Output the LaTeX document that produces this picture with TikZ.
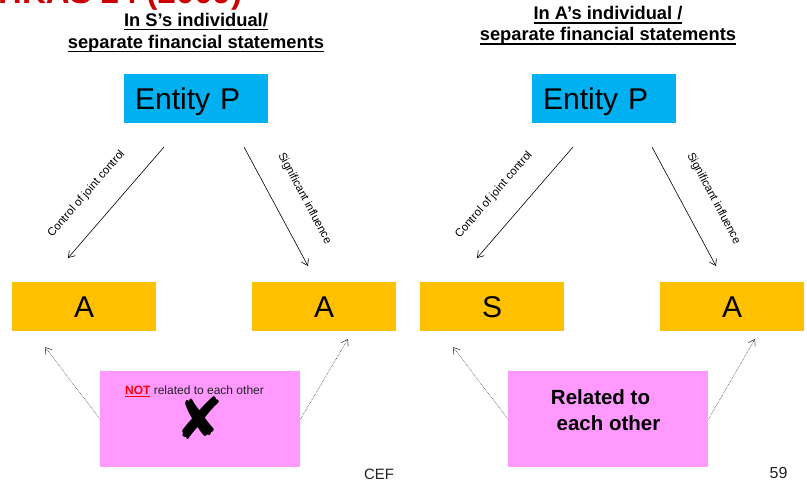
\documentclass[tikz,border=0pt]{standalone}
\usepackage{fontspec}
\setmainfont{Liberation Sans}
\newfontfamily\symfont{DejaVu Sans}
\usetikzlibrary{arrows.meta}

\definecolor{entityblue}{HTML}{00B0F0}
\definecolor{partyyellow}{HTML}{FFC000}
\definecolor{notepink}{HTML}{FF99FF}
\definecolor{titlered}{HTML}{CC0000}
\definecolor{inkgray}{HTML}{222222}

% underlined text: #1 text, #2 depth of the rule's lower edge, #3 rule thickness
\newsavebox\ulbox
\newcommand\underlined[3]{\sbox\ulbox{#1}\rlap{\rule[-#2]{\wd\ulbox}{#3}}\usebox\ulbox}

\tikzset{
  heading/.style={font=\fontsize{18.3}{21}\selectfont\bfseries, anchor=base, inner sep=0pt},
  entity/.style={fill=entityblue, anchor=north west, minimum height=49pt,
    inner xsep=11pt, inner ysep=0pt, text width=122pt, align=left,
    text height=21.5pt, text depth=0pt, font=\fontsize{30}{36}\selectfont},
  party/.style={fill=partyyellow, anchor=north west, minimum width=144pt,
    minimum height=49pt, inner sep=0pt, text height=21.5pt, text depth=0pt,
    font=\fontsize{30}{36}\selectfont},
  note/.style={fill=notepink, anchor=north west, minimum width=200pt,
    minimum height=96pt, inner sep=0pt},
  link/.style={line width=0.6pt, -{Straight Barb[length=6pt,width=8pt]}},
  hint/.style={densely dotted, line width=0.6pt, draw=black!75,
    -{Straight Barb[length=6pt,width=8pt]}},
  linklabel/.style={font=\fontsize{11.4}{13}\selectfont, inner sep=0pt},
}

\begin{document}
\begin{tikzpicture}[x=1pt,y=-1pt]
  \useasboundingbox (0,0) rectangle (807,488);
  \clip (0,0) rectangle (807,488);

  % slide title, mostly above the visible area
  \node[anchor=base west, inner sep=0pt, text=titlered,
        font=\fontsize{33}{40}\selectfont\bfseries] (title) at (-2,3) {HKAS 24 (2009)};

  % column headings
  \node[heading] (hl1) at (196,26) {\underlined{In S’s individual/}{4pt}{1.3pt}};
  \node[heading] (hl2) at (196,48) {\underlined{separate financial statements}{4pt}{1.3pt}};
  \node[heading] (hr1) at (608,19.5) {\underlined{In A’s individual /}{4pt}{1.3pt}};
  \node[heading] (hr2) at (608,40.5) {\underlined{separate financial statements}{4pt}{1.3pt}};

  % left column: S's statements
  \node[entity] (P1) at (124,74) {Entity P};
  \node[party] (A1) at (12,282) {A};
  \node[party] (A2) at (252,282) {A};

  \coordinate (l1s) at (164,147);
  \coordinate (l1e) at (68,258);
  \coordinate (l2s) at (244,147);
  \coordinate (l2e) at (308,266);
  \draw[link] (l1s) -- (l1e);
  \draw[link] (l2s) -- (l2e);
  \node[linklabel, rotate=49] (lab1) at (86.5,194) {Control of joint control};
  \node[linklabel, rotate=-62] (lab2) at (304.5,198.5) {Significant influence};

  \node[note] (N1) at (100,371) {};
  \node[inner sep=0pt, font=\fontsize{12}{14}\selectfont, text=inkgray] (not) at (194.5,391)
    {\textcolor{red}{\underlined{\textbf{NOT}}{2.4pt}{0.9pt}} related to each other};
  \node[inner sep=0pt, font=\symfont\fontsize{58}{60}\selectfont] (cross) at (200,418) {✘};

  \coordinate (h1e) at (45,347);
  \coordinate (h2e) at (348,339);
  \draw[hint] (N1.west) -- (h1e);
  \draw[hint] (N1.east) -- (h2e);

  % right column: A's statements
  \node[entity] (P2) at (532,74) {Entity P};
  \node[party] (S3) at (420,282) {S};
  \node[party] (A4) at (660,282) {A};

  \coordinate (r1s) at (573,147);
  \coordinate (r1e) at (477,258);
  \coordinate (r2s) at (652,147);
  \coordinate (r2e) at (716,266);
  \draw[link] (r1s) -- (r1e);
  \draw[link] (r2s) -- (r2e);
  \node[linklabel, rotate=49] (lab3) at (494,195) {Control of joint control};
  \node[linklabel, rotate=-62] (lab4) at (713.5,198.5) {Significant influence};

  \node[note] (N2) at (508,371) {};
  \node[anchor=base, inner sep=0pt, font=\fontsize{20.5}{24}\selectfont\bfseries] (rel1) at (600.5,404) {Related to};
  \node[anchor=base, inner sep=0pt, font=\fontsize{20.5}{24}\selectfont\bfseries] (rel2) at (608.5,430) {each other};

  \coordinate (h3e) at (453,347);
  \coordinate (h4e) at (755,339);
  \draw[hint] (N2.west) -- (h3e);
  \draw[hint] (N2.east) -- (h4e);

  % footer
  \node[anchor=base, inner sep=0pt, font=\fontsize{15}{18}\selectfont, text=inkgray] (cef) at (379,479) {CEF};
  \node[anchor=base, inner sep=0pt, font=\fontsize{16}{19}\selectfont, text=inkgray] (page) at (778.5,478) {59};
\end{tikzpicture}
\end{document}
